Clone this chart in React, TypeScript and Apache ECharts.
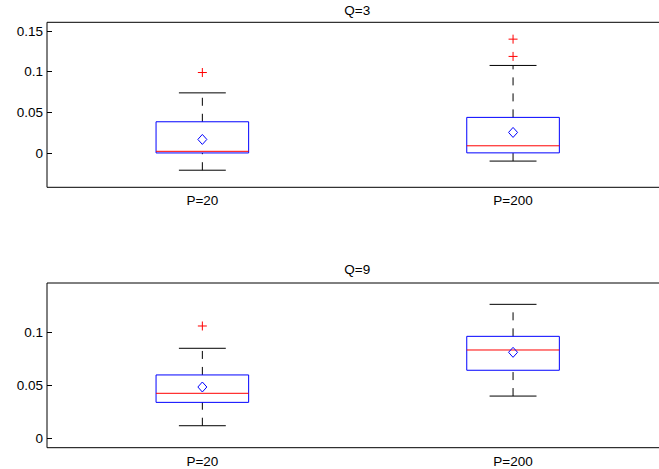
import React, { useEffect, useRef } from "react";
import * as echarts from "echarts";

const categories = ["P=20", "P=200"];

// Q=3 panel
const q3Low = [-0.021, -0.0098];
const q3Q1 = [0.0002, 0.0003];
const q3Median = [0.0022, 0.009];
const q3Q3 = [0.0385, 0.0439];
const q3High = [0.074, 0.1077];
const q3Mean = [0.0168, 0.0254];
const q3Outliers = [
  [0, 0.099],
  [1, 0.1188],
  [1, 0.14],
];

// Q=9 panel
const q9Low = [0.0122, 0.04];
const q9Q1 = [0.0341, 0.0642];
const q9Median = [0.0426, 0.0832];
const q9Q3 = [0.0598, 0.096];
const q9High = [0.0848, 0.126];
const q9Mean = [0.0485, 0.081];
const q9Outliers = [[0, 0.1057]];

const topTicks = [0, 0.05, 0.1, 0.15];
const bottomTicks = [0, 0.05, 0.1];

const titles = ["Q=3", "Q=9"];

const FONT = "'Liberation Sans', Arial, Helvetica, sans-serif";
const FS = 13.5;

function buildBoxData(low: number[], q1: number[], med: number[], q3: number[], high: number[], mean: number[]) {
  return categories.map((_, i) => [i, low[i], q1[i], med[i], q3[i], high[i], mean[i]]);
}

function renderBox(params: any, api: any) {
  const x = api.value(0);
  const low = api.value(1);
  const q1 = api.value(2);
  const med = api.value(3);
  const q3 = api.value(4);
  const high = api.value(5);
  const mean = api.value(6);
  const band = api.size([1, 0])[0];
  const cx = api.coord([x, med])[0];
  const y = (v: number) => api.coord([x, v])[1];
  const bw = (band * 0.298) / 2;
  const cw = (band * 0.151) / 2;
  const black = "#000";
  const dash = [8, 8];
  const ym = y(mean);
  return {
    type: "group",
    children: [
      {
        type: "line",
        shape: { x1: cx, y1: y(q3), x2: cx, y2: y(high) },
        style: { stroke: black, lineWidth: 1, lineDash: dash },
      },
      {
        type: "line",
        shape: { x1: cx, y1: y(low), x2: cx, y2: y(q1) },
        style: { stroke: black, lineWidth: 1, lineDash: dash },
      },
      {
        type: "line",
        shape: { x1: cx - cw, y1: y(high), x2: cx + cw, y2: y(high) },
        style: { stroke: black, lineWidth: 1 },
      },
      {
        type: "line",
        shape: { x1: cx - cw, y1: y(low), x2: cx + cw, y2: y(low) },
        style: { stroke: black, lineWidth: 1 },
      },
      {
        type: "rect",
        shape: { x: cx - bw, y: y(q3), width: 2 * bw, height: y(q1) - y(q3) },
        style: { fill: "none", stroke: "#0000ff", lineWidth: 1 },
      },
      {
        type: "line",
        shape: { x1: cx - bw, y1: y(med), x2: cx + bw, y2: y(med) },
        style: { stroke: "#ff0000", lineWidth: 1 },
      },
      {
        type: "polygon",
        shape: {
          points: [
            [cx, ym - 5],
            [cx + 4.5, ym],
            [cx, ym + 5],
            [cx - 4.5, ym],
          ],
        },
        style: { fill: "none", stroke: "#0000ff", lineWidth: 1 },
      },
    ],
  };
}

function renderOutlier(params: any, api: any) {
  const p = api.coord([api.value(0), api.value(1)]);
  const s = 4.5;
  return {
    type: "group",
    children: [
      {
        type: "line",
        shape: { x1: p[0] - s, y1: p[1], x2: p[0] + s, y2: p[1] },
        style: { stroke: "#ff0000", lineWidth: 1 },
      },
      {
        type: "line",
        shape: { x1: p[0], y1: p[1] - s, x2: p[0], y2: p[1] + s },
        style: { stroke: "#ff0000", lineWidth: 1 },
      },
    ],
  };
}

export default function App() {
  const ref = useRef<HTMLDivElement>(null);
  useEffect(() => {
    if (!ref.current) return;
    const chart = echarts.init(ref.current, null, { renderer: "svg" });
    const grids = [
      { left: 47, top: 22.3, width: 621.4, height: 165 },
      { left: 47, top: 283, width: 621.4, height: 164.7 },
    ];
    const mkX = (gi: number) => ({
      type: "category",
      gridIndex: gi,
      data: categories,
      boundaryGap: true,
      axisLine: { show: false },
      axisTick: { show: false },
      axisLabel: { color: "#000", fontSize: FS, fontFamily: FONT, margin: 6.5 },
      splitLine: { show: false },
    });
    const mkY = (gi: number, min: number, max: number, ticks: number[]) => ({
      type: "value",
      gridIndex: gi,
      min,
      max,
      axisLine: { show: false },
      axisTick: {
        show: true,
        inside: true,
        length: 5,
        lineStyle: { color: "#000" },
        customValues: ticks,
      },
      axisLabel: {
        color: "#000",
        fontSize: FS,
        fontFamily: FONT,
        margin: 4,
        customValues: ticks,
        formatter: (v: number) => String(Number(v.toFixed(4))),
      },
      splitLine: { show: false },
    });
    chart.setOption({
      animation: false,
      backgroundColor: "#fff",
      grid: grids.map((g) => ({
        ...g,
        show: true,
        borderColor: "#000",
        borderWidth: 1,
        backgroundColor: "transparent",
        containLabel: false,
        outerBoundsMode: "none",
      })),
      xAxis: [mkX(0), mkX(1)],
      yAxis: [mkY(0, -0.042, 0.1607, topTicks), mkY(1, -0.0084, 0.146, bottomTicks)],
      graphic: [
        {
          type: "text",
          x: 357.3,
          y: 10,
          style: {
            text: titles[0],
            fontSize: FS,
            fontFamily: FONT,
            fill: "#000",
            textAlign: "center",
            textVerticalAlign: "middle",
          },
        },
        {
          type: "text",
          x: 357.3,
          y: 269,
          style: {
            text: titles[1],
            fontSize: FS,
            fontFamily: FONT,
            fill: "#000",
            textAlign: "center",
            textVerticalAlign: "middle",
          },
        },
      ],
      series: [
        {
          type: "custom",
          xAxisIndex: 0,
          yAxisIndex: 0,
          renderItem: renderBox,
          encode: { x: 0, y: [1, 2, 3, 4, 5] },
          data: buildBoxData(q3Low, q3Q1, q3Median, q3Q3, q3High, q3Mean),
          clip: false,
        },
        {
          type: "custom",
          xAxisIndex: 0,
          yAxisIndex: 0,
          renderItem: renderOutlier,
          encode: { x: 0, y: 1 },
          data: q3Outliers,
        },
        {
          type: "custom",
          xAxisIndex: 1,
          yAxisIndex: 1,
          renderItem: renderBox,
          encode: { x: 0, y: [1, 2, 3, 4, 5] },
          data: buildBoxData(q9Low, q9Q1, q9Median, q9Q3, q9High, q9Mean),
          clip: false,
        },
        {
          type: "custom",
          xAxisIndex: 1,
          yAxisIndex: 1,
          renderItem: renderOutlier,
          encode: { x: 0, y: 1 },
          data: q9Outliers,
        },
      ],
    });
    return () => chart.dispose();
  }, []);
  return (
    <div
      ref={ref}
      style={{ position: "fixed", left: 0, top: 0, width: 659, height: 469 }}
    />
  );
}
